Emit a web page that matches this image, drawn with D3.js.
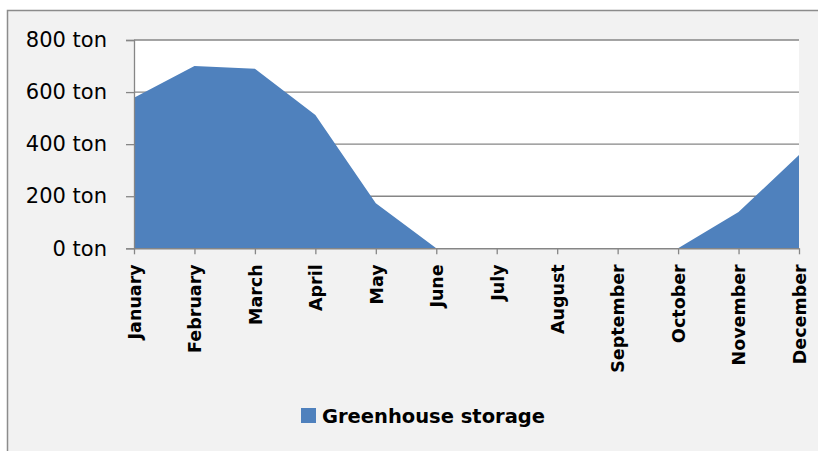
<!DOCTYPE html>
<html>
<head>
<meta charset="utf-8">
<script src="https://cdn.jsdelivr.net/npm/d3@7"></script>
<style>
  body { margin: 0; background: #ffffff; }
  svg { display: block; font-family: "DejaVu Sans", sans-serif; }
</style>
</head>
<body>
<script>
var months = ['January', 'February', 'March', 'April', 'May', 'June', 'July', 'August', 'September', 'October', 'November', 'December']
var storage = [578, 700, 690, 512, 173, 0, 0, 0, 0, 0, 139, 358]
var yTicks = [0, 200, 400, 600, 800]
var seriesName = 'Greenhouse storage'

var width = 818
var height = 451
var margin = { left: 134, right: 19, top: 40, bottom: 202.7 }
var innerWidth = width - margin.left - margin.right
var innerHeight = height - margin.top - margin.bottom

var svg = d3.select('body').append('svg').attr('width', width).attr('height', height)

// chart frame (only top and left edges fall inside the picture)
svg.append('rect').attr('x', 7.5).attr('y', 10.5).attr('width', width - 7.5).attr('height', height - 10.5)
    .attr('fill', '#f2f2f2')
svg.append('path').attr('d', `M7.5,${height} V10.5 H${width}`)
    .attr('fill', 'none').attr('stroke', '#8c8c8c').attr('stroke-width', 1.5)

var g = svg.append('g').attr('transform', `translate(${margin.left}, ${margin.top})`)

var xScale = d3.scalePoint().domain(months).range([0, innerWidth])
var yScale = d3.scaleLinear().domain([0, 800]).range([innerHeight, 0])

g.append('rect').attr('width', innerWidth).attr('height', innerHeight).attr('fill', '#ffffff')

// gridlines
g.append('g').selectAll('line').data(yTicks.filter(d => d > 0)).enter().append('line')
    .attr('x1', 0).attr('x2', innerWidth)
    .attr('y1', d => yScale(d)).attr('y2', d => yScale(d))
    .attr('stroke', '#868686').attr('stroke-width', 1.3)

var area = d3.area()
    .x((d, i) => xScale(months[i]))
    .y0(yScale(0))
    .y1(d => yScale(d))

g.append('path').datum(storage).attr('d', area).attr('fill', '#4f81bd')

var yAxis = d3.axisLeft(yScale).tickValues(yTicks).tickSize(8).tickPadding(19).tickFormat(d => d + ' ton')
var yg = g.append('g').call(yAxis)
yg.select('.domain').attr('stroke', '#868686').attr('stroke-width', 1.3)
yg.selectAll('.tick line').attr('stroke', '#868686').attr('stroke-width', 1.3)
yg.selectAll('.tick text').attr('font-size', 21).attr('fill', '#000').attr('font-family', '"DejaVu Sans", sans-serif')

var xAxis = d3.axisBottom(xScale).tickSize(6).tickSizeOuter(0)
var xg = g.append('g').attr('transform', `translate(0,${innerHeight})`).call(xAxis)
xg.select('.domain').attr('stroke', '#868686').attr('stroke-width', 1.5)
xg.selectAll('.tick line').attr('stroke', '#868686').attr('stroke-width', 1.3)
xg.selectAll('.tick text')
    .attr('font-size', 17.5).attr('font-weight', 'bold').attr('fill', '#000')
    .attr('font-family', '"DejaVu Sans", sans-serif')
    .attr('x', 0).attr('y', 0).attr('dy', '0.36em')
    .attr('transform', 'translate(0,16) rotate(-90)')
    .style('text-anchor', 'end')

// legend
var legend = svg.append('g').attr('transform', 'translate(301, 408)')
legend.append('rect').attr('width', 15).attr('height', 15).attr('fill', '#4f81bd')
legend.append('text').attr('x', 21).attr('y', 7.5).attr('dy', '0.36em')
    .attr('font-size', 19.5).attr('font-weight', 'bold').attr('fill', '#000')
    .text(seriesName)
</script>
</body>
</html>
